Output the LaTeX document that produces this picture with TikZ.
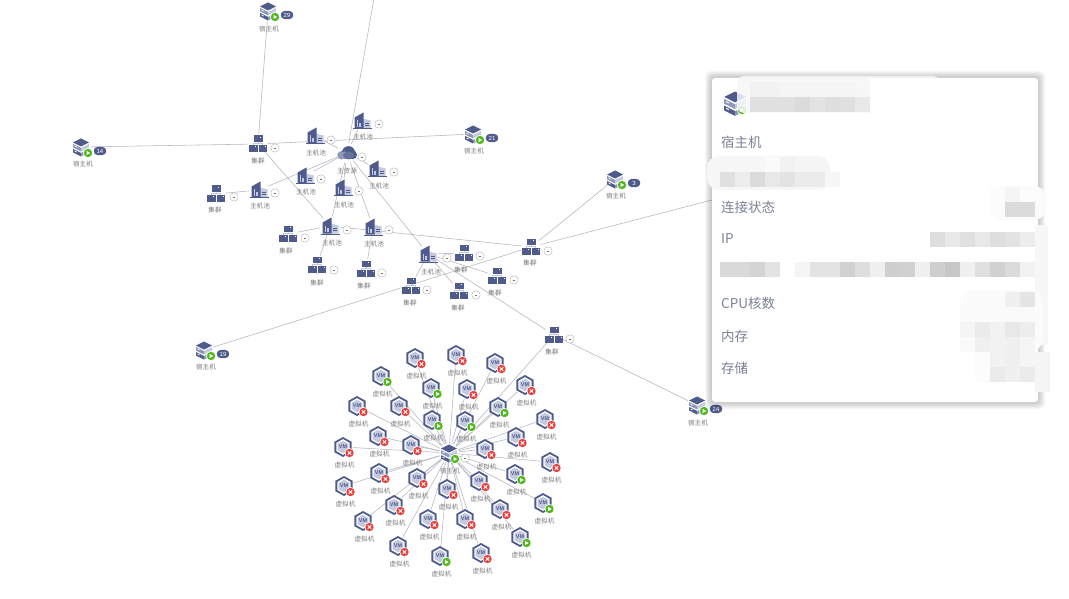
\documentclass[tikz,border=0pt]{standalone}
\usepackage{fontspec}
\setmainfont{Noto Sans CJK SC}
\newfontfamily\vmfont{Liberation Sans}
\definecolor{iconblue}{HTML}{4F5B8A}
\definecolor{iconlight}{HTML}{C3C9E0}
\definecolor{iconmid}{HTML}{8F98BC}
\definecolor{linkgray}{HTML}{B4B6C0}
\definecolor{labgray}{HTML}{7C7C7C}
\definecolor{paneltext}{HTML}{7B8296}
\definecolor{okgreen}{HTML}{52B81C}
\definecolor{badred}{HTML}{E8413E}
\tikzset{
  hit/.style={circle,minimum size=20pt,inner sep=0pt,outer sep=0pt},
  link/.style={draw=linkgray,line width=0.55pt},
  lab/.style={font=\fontsize{6.6}{7}\selectfont,text=labgray,inner sep=0pt,anchor=center},
  ptext/.style={font=\fontsize{13.5}{15}\selectfont,text=paneltext,inner sep=0pt,anchor=west},
  pill/.style={fill=iconblue,rounded corners=4pt,minimum width=12.5pt,minimum height=8.2pt,inner sep=0pt,text=white,font=\vmfont\fontsize{6}{6}\selectfont},
  minusbtn/.style={circle,draw=black!28,fill=white,line width=0.45pt,minimum size=8.4pt,inner sep=0pt},
  pics/hosticon/.style={code={
    \fill[iconblue] (0,-8.5)--(8,-4.5)--(0,-0.5)--(-8,-4.5)--cycle;
    \fill[iconmid] (-8,-3)--(0,1)--(0,4.5)--(-8,0.5)--cycle;
    \fill[iconlight] (0,1)--(8,-3)--(8,0.5)--(0,4.5)--cycle;
    \fill[iconblue] (-8,2)--(0,6)--(0,9.5)--(-8,5.5)--cycle;
    \fill[iconmid] (0,6)--(8,2)--(8,5.5)--(0,9.5)--cycle;
    \fill[white] (-6.5,-1.4)--(-4.5,-0.4)--(-4.5,0.4)--(-6.5,-0.6)--cycle;
    \fill[white] (-6.5,3.6)--(-4.5,4.6)--(-4.5,5.4)--(-6.5,4.4)--cycle;
  }},
  pics/clustericon/.style={code={
    \fill[iconblue] (-4.5,-8.5) rectangle (4.5,-2);
    \draw[iconlight,line width=0.5pt] (0,-2)--(0,-0.5) (-4.7,0.8)--(-4.7,-0.5)--(4.7,-0.5)--(4.7,0.8);
    \fill[iconblue] (-9,1) rectangle (-0.5,7.8);
    \fill[iconblue] (0.5,1) rectangle (9,7.8);
    \fill[white] (2.2,-7.2) rectangle (3.4,-6.6);
    \fill[white] (-3,2.3) rectangle (-1.8,2.9);
    \fill[white] (6.5,2.3) rectangle (7.7,2.9);
  }},
  pics/poolicon/.style={code={
    \fill[iconlight] (0.5,-2.5) -- (8.5,-0.5) -- (8.5,7.5) -- (0.5,7.5) -- cycle;
    \fill[iconblue] (-7.5,7.5)--(-7.5,-3.5)--(1.5,-8.5)--(1.5,7.5)--cycle;
    \fill[iconlight] (-5.3,-0.5) rectangle (-4,6);
    \fill[iconlight] (-2.6,2) rectangle (-1.3,6);
    \fill[iconblue] (3.2,1.7) rectangle (4.6,2.5);
    \fill[iconblue] (5.4,1.7) rectangle (6.8,2.5);
    \fill[iconblue] (3.2,4) rectangle (6.8,4.8);
    \fill[iconblue] (-9,7.5) rectangle (9.5,8.3);
  }},
  pics/cloudicon/.style={code={
    \fill[iconmid] (-5.5,2.2) circle[radius=4.2pt];
    \fill[iconblue] (1.5,-0.3) circle[radius=6.6pt];
    \fill[iconblue] (5.6,1.8) circle[radius=4.4pt];
    \fill[iconmid] (-2.5,2.2) circle[radius=3.8pt];
    \fill[iconblue!80!iconlight] (1.5,2.4) ellipse[x radius=5.5pt,y radius=3.8pt];
  }},
  pics/vmicon/.style={code={
    \fill[iconblue] (0,-10)--(8.6,-5.2)--(8.6,5.2)--(0,10)--(-8.6,5.2)--(-8.6,-5.2)--cycle;
    \fill[white] (0,-7.8)--(6.6,-4.1)--(6.6,4.1)--(0,7.8)--(-6.6,4.1)--(-6.6,-4.1)--cycle;
    \fill[iconlight] (0,-6.2)--(5.3,-3.2)--(5.3,3.2)--(0,6.2)--(-5.3,3.2)--(-5.3,-3.2)--cycle;
    \node[inner sep=0pt,text=iconblue,font=\vmfont\bfseries\fontsize{5.4}{5}\selectfont] at (0,0) {VM};
  }},
  pics/okdot/.style={code={
    \fill[white] (0,0) circle[radius=5pt];
    \fill[okgreen] (0,0) circle[radius=4.2pt];
    \fill[white] (-1.4,-2)--(2.2,0)--(-1.4,2)--cycle;
  }},
  pics/baddot/.style={code={
    \fill[white] (0,0) circle[radius=5pt];
    \fill[badred] (0,0) circle[radius=4.2pt];
    \draw[white,line width=0.9pt] (-1.7,-1.7)--(1.7,1.7) (-1.7,1.7)--(1.7,-1.7);
  }},
  pics/minusmark/.style={code={
    \node[minusbtn] {};
    \draw[black!55,line width=0.5pt] (-1.4,0)--(1.4,0);
  }},
}
\newcommand{\mosaic}[3]{%
  \foreach \v [count=\i from 0] in {#3} {%
    \pgfmathsetmacro{\xa}{#1+15*\i}%
    \pgfmathsetmacro{\xb}{#1+15*\i+15.2}%
    \fill[black!\v] (\xa,#2) rectangle (\xb,#2+15.2);
  }%
}
\begin{document}
\begin{tikzpicture}[x=1pt,y=-1pt]
\useasboundingbox (0,0) rectangle (1069,599);
\fill[white] (0,0) rectangle (1069,599);

% anchors for every element
\foreach \n/\x/\y in {
  h1/268/11,h2/81/147,h3/473/134,h4/615/179,h5/204/350,h6/697/405,
  c1/258/144,c2/216/194,c3/288/234,c4/317/265,c5/366/269,c6/464/253,
  c7/497/276,c8/411/286,c9/459/291,c10/531/247,c11/554/335,
  p1/315/136,p2/362/121,p3/305/176,p4/377/169,p5/259/190,p6/343/188,
  p7/330/226,p8/373/227,p9/428/254,cloud/347/153,ctr/449/453}
  {\node[hit] (\n) at (\x,\y) {};}
\coordinate (topend) at (373.7,0);
\coordinate (panelend) at (712,200);

\foreach \i/\x/\y/\k in {
 1/381/376/ok,2/415/358/bad,3/456/355/bad,4/495/363/bad,5/431/388/ok,6/467/389/bad,
 7/525/385/bad,8/357/406/bad,9/399/406/bad,10/498/407/ok,11/545/419/bad,12/432/420/ok,
 13/465/421/ok,14/378/436/bad,15/411/445/bad,16/516/437/bad,17/343/447/bad,18/485/449/bad,
 19/550/462/bad,20/379/473/bad,21/417/478/bad,22/515/474/ok,23/344/486/bad,24/447/489/bad,
 25/479/481/bad,26/394/505/bad,27/543/503/ok,28/500/509/bad,29/363/521/bad,30/428/519/bad,
 31/465/519/bad,32/520/537/ok,33/398/546/bad,34/440/556/ok,35/481/553/bad}
 {\node[hit] (v\i) at (\x,\y) {};
  \draw[link] (ctr) -- (v\i);}

% connectors
\foreach \a/\b in {cloud/topend,cloud/p1,cloud/p2,cloud/p3,cloud/p4,cloud/p5,cloud/p6,cloud/p7,cloud/p8,cloud/p9,
  c1/h1,c1/h2,c1/h3,c1/p7,p5/c2,p7/c3,p7/c4,p8/c5,p7/c10,p9/c6,p9/c7,p9/c8,p9/c9,p9/c11,
  c10/h4,c10/h5,c10/panelend,c11/h6,c11/ctr}
  {\draw[link] (\a) -- (\b);}

% hosts
\foreach \n/\x/\y/\lx/\ly/\t in {h1/268/11/269/29/29,h2/81/147/83/164/14,h3/473/134/474/151/21,
  h4/615/179/616/196/3,h5/204/350/206/367/19,h6/697/405/698/423/24}
 {\pic at (\x,\y) {hosticon};
  \pic at (\x+7,\y+6) {okdot};
  \node[lab] (lab\n) at (\lx,\ly) {宿主机};
  \node[pill] (pill\n) at (\x+19,\y+4) {\t};}

% clusters
\foreach \n/\x/\y/\lx/\ly/\mx/\my in {c1/258/144/258/161/275/148,c2/216/194/215/210/234/197,
  c3/288/234/286/251/305/238,c4/317/265/317/283/334/270,c5/366/269/364/286/382/273,
  c6/464/253/461/270/480/256,c7/497/276/495/293/514/280,c8/411/286/410/303/427/290,
  c9/459/291/458/308/476/295,c10/531/247/530/263/548/251,c11/554/335/552/352/570/339}
 {\pic at (\x,\y) {clustericon};
  \pic at (\mx,\my) {minusmark};
  \node[lab] (lab\n) at (\lx,\ly) {集群};}

% pools
\foreach \n/\x/\y/\lx/\ly/\mx/\my in {p1/315/136/316/153/331/140,p2/362/121/363/137/379/124,
  p3/305/176/306/192/321/179,p4/377/169/379/186/394/172,p5/259/190/260/206/275/193,
  p6/343/188/344/205/359/191,p7/330/226/332/243/347/230,p8/373/227/374/244/389/230,
  p9/428/254/431/272/447/258}
 {\pic at (\x,\y) {poolicon};
  \pic at (\mx,\my) {minusmark};
  \node[lab] (lab\n) at (\lx,\ly) {主机池};}

% cloud
\pic at (347,153) {cloudicon};
\pic at (362,157) {minusmark};
\node[lab] (labcloud) at (347,171) {主资源};

% centre host
\pic at (449,453) {hosticon};
\pic at (455,459) {okdot};
\pic at (465,458) {minusmark};
\node[lab] (labctr) at (450,471) {宿主机};

% virtual machines
\foreach \i/\x/\y/\k in {
 1/381/376/ok,2/415/358/bad,3/456/355/bad,4/495/363/bad,5/431/388/ok,6/467/389/bad,
 7/525/385/bad,8/357/406/bad,9/399/406/bad,10/498/407/ok,11/545/419/bad,12/432/420/ok,
 13/465/421/ok,14/378/436/bad,15/411/445/bad,16/516/437/bad,17/343/447/bad,18/485/449/bad,
 19/550/462/bad,20/379/473/bad,21/417/478/bad,22/515/474/ok,23/344/486/bad,24/447/489/bad,
 25/479/481/bad,26/394/505/bad,27/543/503/ok,28/500/509/bad,29/363/521/bad,30/428/519/bad,
 31/465/519/bad,32/520/537/ok,33/398/546/bad,34/440/556/ok,35/481/553/bad}
 {\pic at (\x,\y) {vmicon};
  \pic at (\x+6.5,\y+6) {\k dot};
  \node[lab] (labv\i) at (\x+1.5,\y+18) {虚拟机};}

% detail panel: shadow
\foreach \g in {7,6,5,4,3,2,1}
  {\fill[black,opacity=0.03,rounded corners=5pt]
     (712-\g,78-\g) rectangle (1038+\g,402+\g);}
\fill[white,rounded corners=3pt] (712,78) rectangle (1038,402);

\pic[scale=1.35] at (735,103) {hosticon};
\pic at (742,110) {okdot};

% masked values
\fill[black!3,rounded corners=7pt,opacity=0.85] (737,76) rectangle (940,113);
\fill[white] (870,78.5) rectangle (945,113);
\fill[black!3,rounded corners=12pt] (707,156) rectangle (830,190);
\fill[black!1.5,rounded corners=12pt] (990,186) rectangle (1046,220);
\fill[black!3] (1035,225) rectangle (1048,345);
\fill[black!1.5,rounded corners=14pt] (960,290) rectangle (1043,352);
\fill[black!4] (1035,352) rectangle (1050,392);
\mosaic{750}{82}{5,5,4,4,4,4,4,3}
\mosaic{750}{97}{12,12,12,14,11,13,12,9}
\mosaic{720}{157}{3,3,3,2,5,4,4}
\mosaic{720}{172}{12,7,14,9,11,8,8,3}
\mosaic{990}{187}{1,4,1}
\mosaic{990}{202}{1,14,14}
\mosaic{930}{232}{13,9,12,9,13,11,7}
\mosaic{720}{262}{15,15,17,11}
\mosaic{795}{262}{4,11,11,18,13,6,19,18,6,19,22,6,12,18,14,5}
\mosaic{1005}{292}{6,10}
\mosaic{1005}{307}{2,2}
\mosaic{960}{322}{4,8,5,9,7}
\mosaic{960}{337}{2,6,5,6,4}
\mosaic{975}{352}{1,5,6,4}
\mosaic{975}{367}{1,8,6,8}

\node[ptext] (t1) at (721,142) {宿主机};
\node[ptext] (t2) at (721,207) {连接状态};
\node[ptext] (t3) at (721,239) {IP};
\node[ptext] (t4) at (721,303) {CPU核数};
\node[ptext] (t5) at (721,336) {内存};
\node[ptext] (t6) at (721,368) {存储};
\end{tikzpicture}
\end{document}
